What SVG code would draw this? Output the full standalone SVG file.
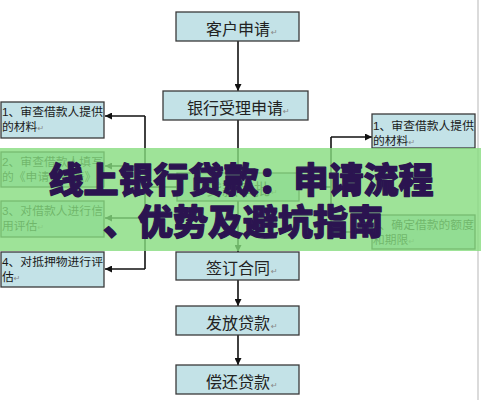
<svg xmlns="http://www.w3.org/2000/svg" width="481" height="400" viewBox="0 0 481 400">
<style>
.box{fill:#c3e2e7;stroke:#3a3a3a;stroke-width:1.3}
.mt{font-family:"Liberation Sans","Noto Sans CJK SC",sans-serif;font-size:16px;fill:#222;text-anchor:middle}
.st{font-family:"Liberation Sans","Noto Sans CJK SC",sans-serif;font-size:11.8px;fill:#1a1a1a}
.rm{font-family:"DejaVu Sans",sans-serif;font-size:8px;fill:#888}
.ln{fill:none;stroke:#111;stroke-width:1.6}
.ttl{font-family:"Noto Sans CJK SC",sans-serif;font-weight:900;font-size:35px;fill:#2b1450;stroke:#2b1450;stroke-width:1.3;stroke-linejoin:round;text-anchor:middle}
</style>
<defs>
<marker id="ah2" viewBox="0 0 10 10" refX="10" refY="5" markerWidth="8" markerHeight="7" orient="auto" markerUnits="userSpaceOnUse">
<path d="M0,0 L10,5 L0,10 z" fill="#111"/>
</marker>
</defs>
<rect width="481" height="400" fill="#ffffff"/>
<line x1="478" y1="0" x2="478" y2="400" stroke="#cfcfcf" stroke-width="1.5"/>

<g id="connectors">
<line class="ln" x1="238" y1="41" x2="238" y2="91" marker-end="url(#ah2)"/>
<line class="ln" x1="238" y1="120" x2="238" y2="173" marker-end="url(#ah2)"/>
<line class="ln" x1="238" y1="201" x2="238" y2="252" marker-end="url(#ah2)"/>
<line class="ln" x1="238" y1="280" x2="238" y2="306" marker-end="url(#ah2)"/>
<line class="ln" x1="238" y1="335" x2="238" y2="365" marker-end="url(#ah2)"/>
<polyline class="ln" points="177,187 145,187"/>
<line class="ln" x1="145" y1="116" x2="145" y2="269"/>
<line class="ln" x1="145" y1="116" x2="105" y2="116" marker-end="url(#ah2)"/>
<line class="ln" x1="145" y1="166" x2="105" y2="166" marker-end="url(#ah2)"/>
<line class="ln" x1="145" y1="218" x2="105" y2="218" marker-end="url(#ah2)"/>
<line class="ln" x1="145" y1="269" x2="105" y2="269" marker-end="url(#ah2)"/>
<polyline class="ln" points="299,187 331,187"/>
<line class="ln" x1="331" y1="137" x2="331" y2="232"/>
<line class="ln" x1="331" y1="137" x2="372" y2="137" marker-end="url(#ah2)"/>
<line class="ln" x1="331" y1="232" x2="372" y2="232" marker-end="url(#ah2)"/>
</g>

<g id="n-apply">
<rect class="box" x="176" y="12" width="123" height="29"/>
<text class="mt" x="238" y="35">客户申请</text><text class="rm" x="271" y="35">↵</text>
</g>
<g id="n-accept">
<rect class="box" x="163" y="91" width="145" height="29"/>
<text class="mt" x="235" y="114">银行受理申请</text><text class="rm" x="283" y="114">↵</text>
</g>
<g id="n-approve">
<rect class="box" x="177" y="173" width="122" height="28"/>
<text class="mt" x="238" y="195">贷款审批</text><text class="rm" x="271" y="195">↵</text>
</g>
<g id="n-sign">
<rect class="box" x="176" y="252" width="123" height="28"/>
<text class="mt" x="238" y="274">签订合同</text><text class="rm" x="271" y="274">↵</text>
</g>
<g id="n-disburse">
<rect class="box" x="176" y="306" width="123" height="29"/>
<text class="mt" x="238" y="329">发放贷款</text><text class="rm" x="271" y="329">↵</text>
</g>
<g id="n-repay">
<rect class="box" x="176" y="365" width="123" height="29"/>
<text class="mt" x="238" y="388">偿还贷款</text><text class="rm" x="271" y="388">↵</text>
</g>

<g id="l1">
<rect class="box" x="1" y="102" width="103" height="36"/>
<text class="st" x="2" y="116">1、审查借款人提供</text>
<text class="st" x="2" y="131">的材料<tspan class="rm">↵</tspan></text>
</g>
<g id="l2">
<rect class="box" x="1" y="152" width="103" height="35"/>
<text class="st" x="2" y="166">2、审查借款人填写</text>
<text class="st" x="2" y="181">的《申请审批表》<tspan class="rm">↵</tspan></text>
</g>
<g id="l3">
<rect class="box" x="1" y="201" width="103" height="36"/>
<text class="st" x="2" y="215">3、对借款人进行信</text>
<text class="st" x="2" y="230">用评估<tspan class="rm">↵</tspan></text>
</g>
<g id="l4">
<rect class="box" x="1" y="252" width="103" height="35"/>
<text class="st" x="2" y="266">4、对抵押物进行评</text>
<text class="st" x="2" y="281">估<tspan class="rm">↵</tspan></text>
</g>
<g id="r1">
<rect class="box" x="372" y="114" width="103" height="34"/>
<text class="st" x="373" y="130">1、审查借款人提供</text>
<text class="st" x="373" y="145">的材料<tspan class="rm">↵</tspan></text>
</g>
<g id="r2">
<rect class="box" x="372" y="215" width="103" height="34"/>
<text class="st" x="373" y="229">2、确定借款的额度</text>
<text class="st" x="373" y="244">和期限<tspan class="rm">↵</tspan></text>
</g>

<g id="banner">
<rect x="0" y="148" width="481" height="103" fill="#86dc7e" opacity="0.8"/>
<text class="ttl" x="241" y="193">线上银行贷款：申请流程</text>
<text class="ttl" x="243" y="235">、优势及避坑指南</text>
</g>
</svg>
